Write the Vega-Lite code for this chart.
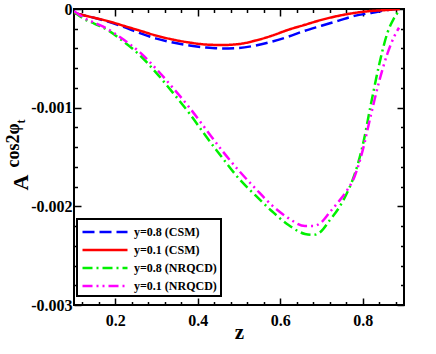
{
  "$schema": "https://vega.github.io/schema/vega-lite/v6.json",
  "width": 330,
  "height": 296,
  "autosize": {"type": "none"},
  "padding": {"left": 74, "top": 9, "right": 32, "bottom": 49},
  "background": "white",
  "config": {
    "font": "Liberation Serif",
    "view": {"stroke": "black", "strokeWidth": 2},
    "axis": {
      "labelFont": "Liberation Serif", "labelFontWeight": "bold", "labelFontSize": 16, "labelColor": "black",
      "titleFont": "Liberation Serif", "titleFontWeight": "bold", "titleColor": "black",
      "tickColor": "black", "tickWidth": 1.5, "domain": false, "grid": false
    }
  },
  "data": {"values": [
    {"s": "y=0.8 (CSM)", "z": 0.10, "A": -0.00004},
    {"s": "y=0.8 (CSM)", "z": 0.14, "A": -0.00008},
    {"s": "y=0.8 (CSM)", "z": 0.18, "A": -0.000125},
    {"s": "y=0.8 (CSM)", "z": 0.22, "A": -0.00018},
    {"s": "y=0.8 (CSM)", "z": 0.26, "A": -0.000245},
    {"s": "y=0.8 (CSM)", "z": 0.30, "A": -0.0003},
    {"s": "y=0.8 (CSM)", "z": 0.34, "A": -0.00034},
    {"s": "y=0.8 (CSM)", "z": 0.38, "A": -0.00037},
    {"s": "y=0.8 (CSM)", "z": 0.42, "A": -0.00039},
    {"s": "y=0.8 (CSM)", "z": 0.46, "A": -0.0004},
    {"s": "y=0.8 (CSM)", "z": 0.50, "A": -0.000395},
    {"s": "y=0.8 (CSM)", "z": 0.54, "A": -0.00037},
    {"s": "y=0.8 (CSM)", "z": 0.58, "A": -0.00033},
    {"s": "y=0.8 (CSM)", "z": 0.62, "A": -0.00028},
    {"s": "y=0.8 (CSM)", "z": 0.66, "A": -0.00022},
    {"s": "y=0.8 (CSM)", "z": 0.70, "A": -0.00017},
    {"s": "y=0.8 (CSM)", "z": 0.74, "A": -0.00012},
    {"s": "y=0.8 (CSM)", "z": 0.78, "A": -0.00007},
    {"s": "y=0.8 (CSM)", "z": 0.82, "A": -0.00004},
    {"s": "y=0.8 (CSM)", "z": 0.86, "A": -0.00001},
    {"s": "y=0.8 (CSM)", "z": 0.88, "A": 0},
    {"s": "y=0.1 (CSM)", "z": 0.10, "A": -0.00004},
    {"s": "y=0.1 (CSM)", "z": 0.14, "A": -0.00008},
    {"s": "y=0.1 (CSM)", "z": 0.18, "A": -0.00012},
    {"s": "y=0.1 (CSM)", "z": 0.22, "A": -0.00017},
    {"s": "y=0.1 (CSM)", "z": 0.26, "A": -0.00022},
    {"s": "y=0.1 (CSM)", "z": 0.30, "A": -0.00027},
    {"s": "y=0.1 (CSM)", "z": 0.34, "A": -0.00031},
    {"s": "y=0.1 (CSM)", "z": 0.38, "A": -0.00034},
    {"s": "y=0.1 (CSM)", "z": 0.42, "A": -0.00036},
    {"s": "y=0.1 (CSM)", "z": 0.46, "A": -0.000365},
    {"s": "y=0.1 (CSM)", "z": 0.50, "A": -0.000355},
    {"s": "y=0.1 (CSM)", "z": 0.54, "A": -0.00032},
    {"s": "y=0.1 (CSM)", "z": 0.58, "A": -0.00027},
    {"s": "y=0.1 (CSM)", "z": 0.62, "A": -0.00021},
    {"s": "y=0.1 (CSM)", "z": 0.66, "A": -0.00016},
    {"s": "y=0.1 (CSM)", "z": 0.70, "A": -0.00011},
    {"s": "y=0.1 (CSM)", "z": 0.74, "A": -0.00007},
    {"s": "y=0.1 (CSM)", "z": 0.78, "A": -0.00004},
    {"s": "y=0.1 (CSM)", "z": 0.82, "A": -0.00002},
    {"s": "y=0.1 (CSM)", "z": 0.86, "A": -0.00001},
    {"s": "y=0.1 (CSM)", "z": 0.89, "A": 0},
    {"s": "y=0.8 (NRQCD)", "z": 0.10, "A": -0.00003},
    {"s": "y=0.8 (NRQCD)", "z": 0.12, "A": -0.00009},
    {"s": "y=0.8 (NRQCD)", "z": 0.15, "A": -0.00015},
    {"s": "y=0.8 (NRQCD)", "z": 0.18, "A": -0.00021},
    {"s": "y=0.8 (NRQCD)", "z": 0.22, "A": -0.00033},
    {"s": "y=0.8 (NRQCD)", "z": 0.26, "A": -0.00047},
    {"s": "y=0.8 (NRQCD)", "z": 0.30, "A": -0.00065},
    {"s": "y=0.8 (NRQCD)", "z": 0.34, "A": -0.00085},
    {"s": "y=0.8 (NRQCD)", "z": 0.38, "A": -0.00106},
    {"s": "y=0.8 (NRQCD)", "z": 0.42, "A": -0.00129},
    {"s": "y=0.8 (NRQCD)", "z": 0.46, "A": -0.00151},
    {"s": "y=0.8 (NRQCD)", "z": 0.50, "A": -0.00172},
    {"s": "y=0.8 (NRQCD)", "z": 0.54, "A": -0.00189},
    {"s": "y=0.8 (NRQCD)", "z": 0.58, "A": -0.00205},
    {"s": "y=0.8 (NRQCD)", "z": 0.62, "A": -0.00219},
    {"s": "y=0.8 (NRQCD)", "z": 0.66, "A": -0.00228},
    {"s": "y=0.8 (NRQCD)", "z": 0.68, "A": -0.00229},
    {"s": "y=0.8 (NRQCD)", "z": 0.70, "A": -0.00225},
    {"s": "y=0.8 (NRQCD)", "z": 0.72, "A": -0.00214},
    {"s": "y=0.8 (NRQCD)", "z": 0.74, "A": -0.00203},
    {"s": "y=0.8 (NRQCD)", "z": 0.76, "A": -0.00188},
    {"s": "y=0.8 (NRQCD)", "z": 0.78, "A": -0.00168},
    {"s": "y=0.8 (NRQCD)", "z": 0.80, "A": -0.00138},
    {"s": "y=0.8 (NRQCD)", "z": 0.82, "A": -0.00096},
    {"s": "y=0.8 (NRQCD)", "z": 0.84, "A": -0.00056},
    {"s": "y=0.8 (NRQCD)", "z": 0.86, "A": -0.00024},
    {"s": "y=0.8 (NRQCD)", "z": 0.875, "A": -0.0001},
    {"s": "y=0.8 (NRQCD)", "z": 0.888, "A": -0.00002},
    {"s": "y=0.1 (NRQCD)", "z": 0.10, "A": -0.00002},
    {"s": "y=0.1 (NRQCD)", "z": 0.12, "A": -0.00008},
    {"s": "y=0.1 (NRQCD)", "z": 0.15, "A": -0.00014},
    {"s": "y=0.1 (NRQCD)", "z": 0.18, "A": -0.0002},
    {"s": "y=0.1 (NRQCD)", "z": 0.22, "A": -0.00031},
    {"s": "y=0.1 (NRQCD)", "z": 0.26, "A": -0.00044},
    {"s": "y=0.1 (NRQCD)", "z": 0.30, "A": -0.00061},
    {"s": "y=0.1 (NRQCD)", "z": 0.34, "A": -0.0008},
    {"s": "y=0.1 (NRQCD)", "z": 0.38, "A": -0.001},
    {"s": "y=0.1 (NRQCD)", "z": 0.42, "A": -0.00122},
    {"s": "y=0.1 (NRQCD)", "z": 0.46, "A": -0.00144},
    {"s": "y=0.1 (NRQCD)", "z": 0.50, "A": -0.00164},
    {"s": "y=0.1 (NRQCD)", "z": 0.54, "A": -0.00182},
    {"s": "y=0.1 (NRQCD)", "z": 0.58, "A": -0.00199},
    {"s": "y=0.1 (NRQCD)", "z": 0.62, "A": -0.00212},
    {"s": "y=0.1 (NRQCD)", "z": 0.66, "A": -0.0022},
    {"s": "y=0.1 (NRQCD)", "z": 0.68, "A": -0.0022},
    {"s": "y=0.1 (NRQCD)", "z": 0.70, "A": -0.00216},
    {"s": "y=0.1 (NRQCD)", "z": 0.72, "A": -0.00206},
    {"s": "y=0.1 (NRQCD)", "z": 0.74, "A": -0.00196},
    {"s": "y=0.1 (NRQCD)", "z": 0.76, "A": -0.00185},
    {"s": "y=0.1 (NRQCD)", "z": 0.78, "A": -0.0017},
    {"s": "y=0.1 (NRQCD)", "z": 0.80, "A": -0.00143},
    {"s": "y=0.1 (NRQCD)", "z": 0.82, "A": -0.00107},
    {"s": "y=0.1 (NRQCD)", "z": 0.84, "A": -0.00073},
    {"s": "y=0.1 (NRQCD)", "z": 0.86, "A": -0.00045},
    {"s": "y=0.1 (NRQCD)", "z": 0.875, "A": -0.00029},
    {"s": "y=0.1 (NRQCD)", "z": 0.888, "A": -0.00019}
  ]},
  "resolve": {"axis": {"x": "independent", "y": "independent"}},
  "layer": [
    {
      "mark": {"type": "line", "strokeWidth": 2.5, "clip": true, "interpolate": "monotone"},
      "encoding": {
        "x": {"field": "z", "type": "quantitative",
          "scale": {"domain": [0.1, 0.9], "nice": false, "zero": false},
          "axis": {"orient": "bottom", "values": [0.2, 0.4, 0.6, 0.8], "format": ".1f", "tickSize": -7, "labelPadding": 14,
            "title": "z", "titleFontSize": 21, "titleX": 165, "titleY": 33, "titleBaseline": "alphabetic", "titleAlign": "center"}},
        "y": {"field": "A", "type": "quantitative",
          "scale": {"domain": [-0.003, 0], "nice": false, "zero": false},
          "axis": {"orient": "left", "values": [0, -0.001, -0.002, -0.003], "tickSize": -7, "labelPadding": 9,
            "labelExpr": "datum.value == 0 ? '0' : '-' + format(-datum.value, '.3f')",
            "title": "A", "titleFontSize": 22, "titleAngle": -90, "titleX": -54, "titleY": 173, "titleAlign": "center", "titleBaseline": "middle"}},
        "color": {"field": "s", "type": "nominal",
          "scale": {"domain": ["y=0.8 (CSM)", "y=0.1 (CSM)", "y=0.8 (NRQCD)", "y=0.1 (NRQCD)"],
            "range": ["#0000ff", "#ff0000", "#00f000", "#ff00ff"]},
          "legend": {"title": null, "orient": "none", "legendX": 3, "legendY": 210,
            "strokeColor": "black", "padding": 4, "symbolType": "M-3,0H3", "symbolSize": 225, "symbolStrokeWidth": 2.5,
            "symbolOffset": 15,
            "labelFont": "Liberation Serif", "labelFontWeight": "bold", "labelFontSize": 12, "labelColor": "black",
            "labelOffset": 20, "rowPadding": 3,
            "encode": {"legend": {"update": {"strokeWidth": {"value": 2}}}}}},
        "strokeDash": {"field": "s", "type": "nominal",
          "scale": {"domain": ["y=0.8 (CSM)", "y=0.1 (CSM)", "y=0.8 (NRQCD)", "y=0.1 (NRQCD)"],
            "range": [[12, 5], [1, 0], [10, 4, 2, 4], [10, 4, 2, 4, 2, 4]]},
          "legend": {"title": null, "orient": "none", "legendX": 3, "legendY": 210}}
      }
    },
    {
      "mark": {"type": "point", "opacity": 0},
      "encoding": {
        "x": {"field": "z", "type": "quantitative", "scale": {"domain": [0.1, 0.9], "nice": false, "zero": false},
          "axis": {"orient": "bottom", "values": [0.12, 0.16, 0.24, 0.28, 0.32, 0.36, 0.44, 0.48, 0.52, 0.56, 0.64, 0.68, 0.72, 0.76, 0.84, 0.88], "tickSize": -3.5, "labels": false, "title": null}},
        "y": {"field": "A", "type": "quantitative", "scale": {"domain": [-0.003, 0], "nice": false, "zero": false},
          "axis": {"orient": "left", "values": [-0.0002, -0.0004, -0.0006, -0.0008, -0.0012, -0.0014, -0.0016, -0.0018, -0.0022, -0.0024, -0.0026, -0.0028], "tickSize": -3.5, "labels": false, "title": null}}
      }
    },
    {
      "mark": {"type": "point", "opacity": 0},
      "encoding": {
        "x": {"field": "z", "type": "quantitative", "scale": {"domain": [0.1, 0.9], "nice": false, "zero": false},
          "axis": {"orient": "top", "values": [0.2, 0.4, 0.6, 0.8], "tickSize": -7, "labels": false, "title": null}},
        "y": {"field": "A", "type": "quantitative", "scale": {"domain": [-0.003, 0], "nice": false, "zero": false},
          "axis": {"orient": "right", "values": [0, -0.001, -0.002, -0.003], "tickSize": -7, "labels": false, "title": null}}
      }
    },
    {
      "mark": {"type": "point", "opacity": 0},
      "encoding": {
        "x": {"field": "z", "type": "quantitative", "scale": {"domain": [0.1, 0.9], "nice": false, "zero": false},
          "axis": {"orient": "top", "values": [0.12, 0.16, 0.24, 0.28, 0.32, 0.36, 0.44, 0.48, 0.52, 0.56, 0.64, 0.68, 0.72, 0.76, 0.84, 0.88], "tickSize": -3.5, "labels": false, "title": null}},
        "y": {"field": "A", "type": "quantitative", "scale": {"domain": [-0.003, 0], "nice": false, "zero": false},
          "axis": {"orient": "right", "values": [-0.0002, -0.0004, -0.0006, -0.0008, -0.0012, -0.0014, -0.0016, -0.0018, -0.0022, -0.0024, -0.0026, -0.0028], "tickSize": -3.5, "labels": false, "title": null}}
      }
    },
    {
      "mark": {"type": "point", "opacity": 0},
      "encoding": {
        "x": {"field": "z", "type": "quantitative", "scale": {"domain": [0.1, 0.9], "nice": false, "zero": false}, "axis": null},
        "y": {"field": "A", "type": "quantitative", "scale": {"domain": [-0.003, 0], "nice": false, "zero": false},
          "axis": {"orient": "left", "ticks": false, "labels": false, "values": [],
            "title": "cos2φ", "titleFontSize": 18, "titleAngle": -90, "titleX": -61, "titleY": 136, "titleAlign": "center", "titleBaseline": "middle"}}
      }
    },
    {
      "mark": {"type": "point", "opacity": 0},
      "encoding": {
        "x": {"field": "z", "type": "quantitative", "scale": {"domain": [0.1, 0.9], "nice": false, "zero": false}, "axis": null},
        "y": {"field": "A", "type": "quantitative", "scale": {"domain": [-0.003, 0], "nice": false, "zero": false},
          "axis": {"orient": "left", "ticks": false, "labels": false, "values": [],
            "title": "t", "titleFontSize": 12, "titleAngle": -90, "titleX": -54, "titleY": 112, "titleAlign": "center", "titleBaseline": "middle"}}
      }
    }
  ]
}
